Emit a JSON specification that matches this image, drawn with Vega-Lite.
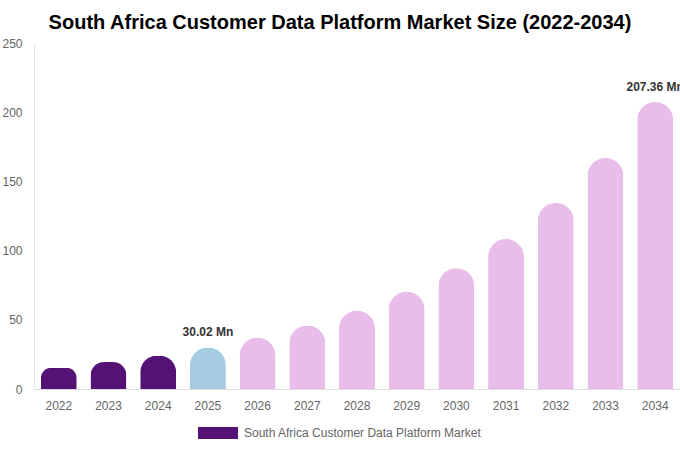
{
  "$schema": "https://vega.github.io/schema/vega-lite/v6.json",
  "description": "South Africa Customer Data Platform Market Size",
  "autosize": "none",
  "width": 646,
  "height": 346,
  "padding": {"left": 34, "top": 43, "right": 0, "bottom": 61},
  "title": {
    "text": "South Africa Customer Data Platform Market Size (2022-2034)",
    "font": "Liberation Sans",
    "fontSize": 20,
    "fontWeight": "bold",
    "color": "#000000",
    "anchor": "middle",
    "dx": -17,
    "offset": 4
  },
  "config": {
    "view": {"stroke": null},
    "font": "Liberation Sans"
  },
  "data": {
    "values": [
      {"year": "2022", "value": 15.3, "label": "", "series": "South Africa Customer Data Platform Market"},
      {"year": "2023", "value": 19.5, "label": "", "series": "South Africa Customer Data Platform Market"},
      {"year": "2024", "value": 24.0, "label": "", "series": "South Africa Customer Data Platform Market"},
      {"year": "2025", "value": 30.02, "label": "30.02 Mn", "series": "South Africa Customer Data Platform Market"},
      {"year": "2026", "value": 37.0, "label": "", "series": "South Africa Customer Data Platform Market"},
      {"year": "2027", "value": 45.8, "label": "", "series": "South Africa Customer Data Platform Market"},
      {"year": "2028", "value": 56.6, "label": "", "series": "South Africa Customer Data Platform Market"},
      {"year": "2029", "value": 70.2, "label": "", "series": "South Africa Customer Data Platform Market"},
      {"year": "2030", "value": 87.3, "label": "", "series": "South Africa Customer Data Platform Market"},
      {"year": "2031", "value": 108.3, "label": "", "series": "South Africa Customer Data Platform Market"},
      {"year": "2032", "value": 134.4, "label": "", "series": "South Africa Customer Data Platform Market"},
      {"year": "2033", "value": 166.9, "label": "", "series": "South Africa Customer Data Platform Market"},
      {"year": "2034", "value": 207.36, "label": "207.36 Mn", "series": "South Africa Customer Data Platform Market"}
    ]
  },
  "encoding": {
    "x": {
      "field": "year",
      "type": "ordinal",
      "title": null,
      "scale": {"paddingInner": 0.276, "paddingOuter": 0.137},
      "axis": {
        "labelAngle": 0,
        "ticks": false,
        "labelPadding": 11,
        "labelFontSize": 12,
        "labelColor": "#666666",
        "domainColor": "#dddddd"
      }
    },
    "y": {
      "field": "value",
      "type": "quantitative",
      "title": null,
      "scale": {"domain": [0, 250]},
      "axis": {
        "values": [0, 50, 100, 150, 200, 250],
        "grid": false,
        "ticks": false,
        "labelPadding": 12,
        "labelFontSize": 12,
        "labelColor": "#666666",
        "domainColor": "#e6e6e6"
      }
    }
  },
  "layer": [
    {
      "mark": {"type": "bar", "cornerRadiusTopLeft": 18, "cornerRadiusTopRight": 18},
      "encoding": {
        "color": {
          "condition": [
            {"test": "datum.year == '2025'", "value": "#a4cbdf"},
            {"test": "toNumber(datum.year) > 2025", "value": "#e8bde9"}
          ],
          "field": "series",
          "type": "nominal",
          "scale": {"range": ["#541374"]},
          "legend": {
            "title": null,
            "orient": "none",
            "legendX": 164,
            "legendY": 370,
            "symbolType": "M-1,-0.3H1V0.3H-1Z",
            "symbolSize": 1600,
            "symbolStrokeWidth": 0,
            "labelFontSize": 12,
            "labelColor": "#666666",
            "labelOffset": 6,
            "labelLimit": 0
          }
        }
      }
    },
    {
      "transform": [{"filter": "datum.label != ''"}],
      "mark": {"type": "text", "dy": -8, "baseline": "bottom", "fontSize": 12, "fontWeight": "bold", "color": "#333333"},
      "encoding": {"text": {"field": "label"}}
    }
  ]
}
